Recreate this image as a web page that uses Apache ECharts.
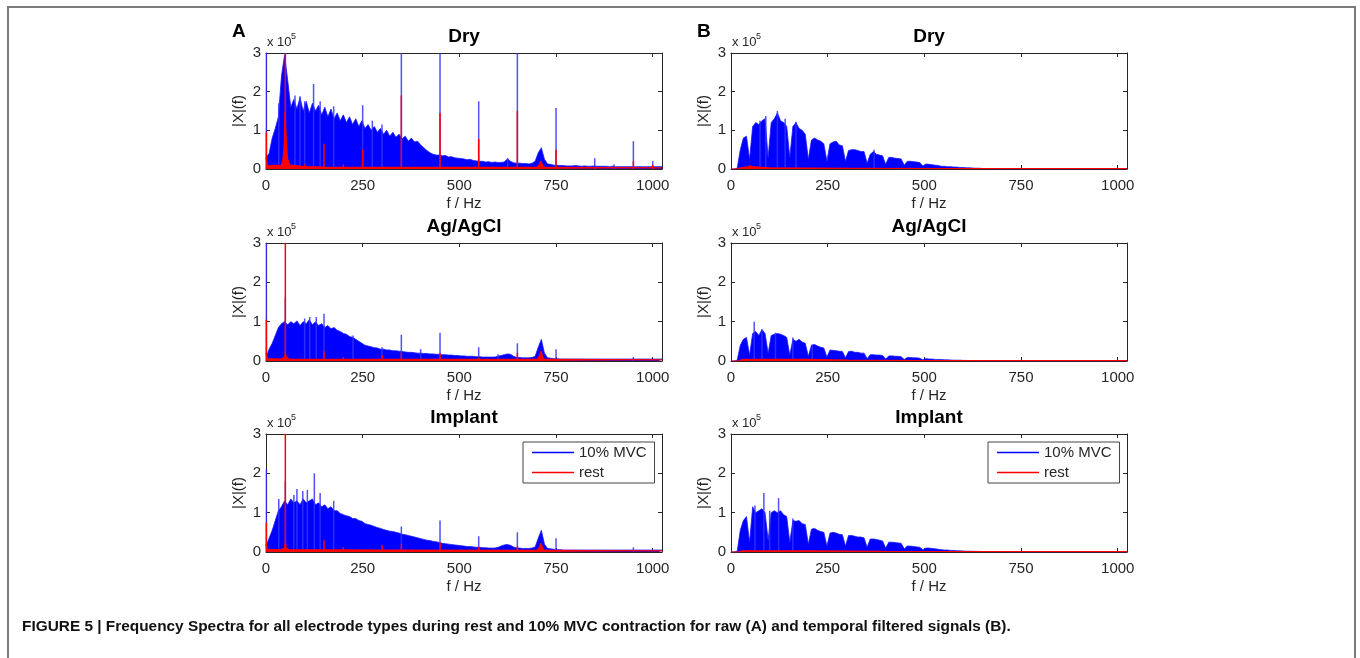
<!DOCTYPE html>
<html><head><meta charset="utf-8">
<script src="https://cdn.jsdelivr.net/npm/echarts@6/dist/echarts.min.js"></script>
<style>html,body{margin:0;padding:0;background:#fff}#chart{width:1360px;height:658px}</style>
</head><body><div id="chart"></div><script>
// ---------------- DATA (magnitudes in units of 1e5) ----------------
const BIN_HZ = 8;               // blue spectra sampled every 8 Hz, 0..1024 Hz
const xTicks = [0, 250, 500, 750, 1000];
const yTicks = [0, 1, 2, 3];
const panelTitles = ['Dry', 'Ag/AgCl', 'Implant'];
const columnLabels = ['A', 'B'];
const legendNames = ['10% MVC', 'rest'];
const captionText = 'FIGURE 5 | Frequency Spectra for all electrode types during rest and 10% MVC contraction for raw (A) and temporal filtered signals (B).';

// ---- A: raw ----
const rawDryBlue = [
  0.3,0.4,0.8,1.05,1.35,2.4,2.95,2.3,1.6,1.8,1.55,1.85,1.5,1.75,1.45,1.7,
  1.5,1.65,1.4,1.6,1.35,1.55,1.3,1.45,1.25,1.4,1.2,1.35,1.15,1.3,1.1,1.25,
  1.05,1.15,1.0,1.1,0.95,1.05,0.9,1.0,0.85,0.95,0.82,0.9,0.78,0.85,0.72,0.8,
  0.7,0.72,0.62,0.55,0.48,0.42,0.38,0.36,0.36,0.34,0.35,0.31,0.32,0.29,0.28,0.27,
  0.26,0.24,0.25,0.22,0.21,0.2,0.2,0.18,0.19,0.17,0.18,0.17,0.17,0.18,0.26,0.2,
  0.16,0.15,0.15,0.14,0.14,0.13,0.15,0.2,0.42,0.55,0.25,0.13,0.12,0.1,0.1,0.09,
  0.09,0.08,0.08,0.08,0.09,0.08,0.07,0.08,0.07,0.07,0.08,0.07,0.07,0.07,0.07,0.06,
  0.07,0.06,0.06,0.06,0.06,0.06,0.06,0.06,0.06,0.06,0.06,0.06,0.06,0.06,0.06,0.06,
  0.06];
const rawDryBlueSpikes = [[1,3],[33,1.7],[50,3],[75,1.9],[88,1.88],[100,1.75],[123,2.2],[140,1.75],[175,1.62],[250,1.65],[275,1.25],[300,1.15],[350,3],[450,3],[550,1.75],[625,0.28],[650,3],[750,1.58],[850,0.28],[900,0.12],[950,0.72],[1000,0.2]];
const rawDryRed = [[0,0.3],[4,0.08],[40,0.1],[44,0.25],[47,0.6],[49,1.5],[51,1.5],[53,0.6],[56,0.25],[62,0.1],[100,0.06],[150,0.05],[300,0.04],[700,0.04],[706,0.1],[711,0.2],[716,0.08],[722,0.04],[1024,0.03]];
const rawDryRedSpikes = [[1,0.95],[50,3],[100,0.12],[150,0.65],[200,0.12],[250,0.5],[350,1.9],[450,1.45],[550,0.78],[650,1.5],[750,0.5],[850,0.05],[950,0.2],[1000,0.1]];

const rawAgBlue = [
  0.1,0.3,0.45,0.65,0.85,0.95,1.0,0.92,1.0,0.95,1.02,0.9,1.0,0.95,1.05,0.92,
  1.0,0.9,0.95,0.85,0.9,0.82,0.85,0.78,0.75,0.7,0.68,0.62,0.6,0.55,0.5,0.45,
  0.4,0.38,0.36,0.34,0.33,0.3,0.3,0.28,0.28,0.26,0.26,0.25,0.24,0.23,0.22,0.22,
  0.21,0.2,0.2,0.19,0.19,0.18,0.18,0.17,0.17,0.16,0.16,0.15,0.15,0.14,0.14,0.13,
  0.13,0.12,0.12,0.12,0.11,0.11,0.1,0.1,0.1,0.1,0.1,0.12,0.14,0.16,0.18,0.17,
  0.12,0.09,0.09,0.08,0.08,0.08,0.09,0.12,0.35,0.55,0.2,0.08,0.07,0.06,0.06,0.05,
  0.05,0.05,0.05,0.05,0.05,0.05,0.05,0.05,0.05,0.05,0.05,0.05,0.05,0.05,0.05,0.05,
  0.05,0.05,0.05,0.05,0.05,0.05,0.05,0.05,0.05,0.05,0.05,0.05,0.05,0.05,0.05,0.05,
  0.05];
const rawAgBlueSpikes = [[1,3],[50,1.62],[100,1.08],[113,1.12],[130,1.12],[150,1.2],[225,0.65],[300,0.35],[350,0.67],[400,0.3],[450,0.72],[550,0.35],[600,0.17],[650,0.45],[750,0.3],[950,0.1]];
const rawAgRed = [[0,0.2],[4,0.06],[40,0.05],[48,0.1],[50,0.2],[52,0.1],[60,0.05],[700,0.04],[706,0.1],[711,0.25],[716,0.08],[722,0.04],[1024,0.03]];
const rawAgRedSpikes = [[1,1.05],[50,3],[150,0.25],[200,0.1],[300,0.15],[350,0.22],[450,0.2],[550,0.08],[650,0.2],[750,0.05]];

const rawImpBlue = [
  0.15,0.35,0.55,0.8,1.05,1.15,1.3,1.2,1.35,1.25,1.3,1.2,1.35,1.25,1.3,1.35,
  1.2,1.25,1.15,1.2,1.1,1.15,1.05,1.05,0.98,0.95,0.92,0.9,0.85,0.85,0.8,0.78,
  0.72,0.7,0.68,0.65,0.62,0.6,0.57,0.55,0.53,0.52,0.5,0.48,0.45,0.44,0.42,0.4,
  0.38,0.36,0.34,0.32,0.3,0.29,0.27,0.26,0.24,0.22,0.21,0.2,0.19,0.18,0.17,0.16,
  0.15,0.14,0.14,0.13,0.12,0.12,0.11,0.11,0.1,0.1,0.1,0.12,0.15,0.18,0.19,0.17,
  0.13,0.1,0.1,0.09,0.09,0.09,0.1,0.13,0.35,0.55,0.2,0.09,0.08,0.07,0.06,0.06,
  0.05,0.05,0.05,0.05,0.05,0.05,0.05,0.05,0.05,0.05,0.05,0.05,0.05,0.05,0.05,0.05,
  0.05,0.05,0.05,0.05,0.05,0.05,0.05,0.05,0.05,0.05,0.05,0.05,0.05,0.05,0.05,0.05,
  0.05];
const rawImpBlueSpikes = [[1,2.1],[33,1.35],[50,1.8],[72,1.45],[80,1.6],[95,1.55],[107,1.58],[125,2.0],[140,1.5],[175,1.3],[350,0.65],[450,0.8],[550,0.4],[650,0.5],[750,0.35],[950,0.12]];
const rawImpRed = [[0,0.2],[4,0.07],[40,0.06],[48,0.1],[50,0.25],[52,0.1],[60,0.06],[300,0.05],[700,0.04],[706,0.1],[711,0.22],[716,0.08],[722,0.04],[1024,0.03]];
const rawImpRedSpikes = [[1,0.75],[50,3],[150,0.3],[200,0.12],[300,0.18],[350,0.2],[450,0.25],[550,0.12],[650,0.15]];

// ---- B: temporal filtered ----
const filtDryBlue = [
  0,0,0.02,0.5,0.8,0.85,0.25,1.1,1.2,1.15,1.25,1.3,0.3,1.2,1.3,1.45,
  1.25,1.2,1.1,0.3,1.1,1.2,1.05,1.0,0.9,0.25,0.75,0.8,0.75,0.72,0.65,0.2,
  0.65,0.7,0.72,0.62,0.6,0.2,0.48,0.5,0.5,0.48,0.45,0.45,0.15,0.38,0.45,0.38,
  0.36,0.34,0.12,0.3,0.3,0.28,0.27,0.26,0.1,0.2,0.2,0.19,0.18,0.17,0.08,0.13,
  0.12,0.11,0.1,0.09,0.07,0.07,0.06,0.06,0.05,0.05,0.04,0.04,0.03,0.03,0.025,0.02,
  0.02,0.015,0.01,0.01,0.01,0.008,0.008,0.006,0.006,0.005,0.005,0.005,0.005,0.005,0.005,0.005,
  0.004,0.004,0.004,0.004,0.004,0.004,0.004,0.004,0.004,0.004,0.004,0.004,0.004,0.004,0.004,0.004,
  0.004,0.004,0.004,0.004,0.004,0.004,0.004,0.004,0.004,0.004,0.004,0.004,0.004,0.004,0.004,0.004,
  0.004];
const filtDryBlueSpikes = [[75,1.25],[90,1.37],[120,1.5],[140,1.3],[168,1.22],[370,0.5]];
const filtDryRed = [[0,0],[16,0],[24,0.03],[50,0.06],[100,0.03],[300,0.02],[600,0.01],[1024,0.008]];
const filtDryRedSpikes = [[50,0.1]];

const filtAgBlue = [
  0,0,0.02,0.4,0.55,0.6,0.15,0.7,0.75,0.65,0.8,0.7,0.2,0.65,0.68,0.7,
  0.68,0.65,0.6,0.15,0.55,0.5,0.55,0.48,0.45,0.12,0.4,0.42,0.38,0.35,0.33,0.1,
  0.28,0.27,0.26,0.25,0.24,0.08,0.24,0.25,0.22,0.22,0.2,0.2,0.06,0.16,0.16,0.15,
  0.15,0.14,0.05,0.13,0.13,0.12,0.12,0.11,0.04,0.09,0.09,0.08,0.08,0.07,0.03,0.06,
  0.05,0.05,0.04,0.04,0.035,0.03,0.03,0.025,0.02,0.02,0.02,0.015,0.015,0.01,0.01,0.01,
  0.01,0.008,0.008,0.006,0.006,0.005,0.005,0.004,0.004,0.004,0.004,0.004,0.004,0.004,0.004,0.004,
  0.003,0.003,0.003,0.003,0.003,0.003,0.003,0.003,0.003,0.003,0.003,0.003,0.003,0.003,0.003,0.003,
  0.003,0.003,0.003,0.003,0.003,0.003,0.003,0.003,0.003,0.003,0.003,0.003,0.003,0.003,0.003,0.003,
  0.003];
const filtAgBlueSpikes = [[60,1.0],[80,0.8],[115,0.72],[160,0.6],[210,0.42]];
const filtAgRed = [[0,0],[20,0],[28,0.04],[200,0.04],[300,0.02],[500,0.01],[1024,0.008]];
const filtAgRedSpikes = [];

const filtImpBlue = [
  0,0,0.02,0.55,0.8,0.9,0.25,1.15,1.0,1.05,1.1,1.0,0.3,1.0,1.05,1.0,
  1.05,0.95,0.9,0.25,0.8,0.78,0.8,0.72,0.7,0.2,0.58,0.6,0.55,0.52,0.5,0.15,
  0.48,0.5,0.48,0.45,0.44,0.15,0.42,0.42,0.4,0.38,0.38,0.36,0.12,0.33,0.33,0.32,
  0.3,0.28,0.1,0.25,0.25,0.24,0.23,0.22,0.08,0.15,0.15,0.14,0.13,0.12,0.06,0.1,
  0.1,0.09,0.08,0.07,0.06,0.05,0.05,0.04,0.04,0.03,0.03,0.025,0.02,0.02,0.02,0.015,
  0.015,0.012,0.01,0.01,0.008,0.008,0.006,0.006,0.005,0.005,0.005,0.005,0.004,0.004,0.004,0.004,
  0.003,0.003,0.003,0.003,0.003,0.003,0.003,0.003,0.003,0.003,0.003,0.003,0.003,0.003,0.003,0.003,
  0.003,0.003,0.003,0.003,0.003,0.003,0.003,0.003,0.003,0.003,0.003,0.003,0.003,0.003,0.003,0.003,
  0.003];
const filtImpBlueSpikes = [[62,1.18],[85,1.5],[100,1.05],[123,1.37],[160,0.85]];
const filtImpRed = [[0,0],[20,0],[28,0.03],[200,0.03],[400,0.015],[1024,0.008]];
const filtImpRedSpikes = [];

// ---------------- LAYOUT ----------------
const gridLeft = [266, 731];
const gridTop = [53, 243, 434];
const gridH = [116, 118, 118];
const gridW = 396;
const INK = '#262626';
const FONT = '"Liberation Sans", Arial, Helvetica, sans-serif';

const panels = [
  {col:0,row:0,blue:rawDryBlue,blueSpikes:rawDryBlueSpikes,red:rawDryRed,redSpikes:rawDryRedSpikes},
  {col:0,row:1,blue:rawAgBlue,blueSpikes:rawAgBlueSpikes,red:rawAgRed,redSpikes:rawAgRedSpikes},
  {col:0,row:2,blue:rawImpBlue,blueSpikes:rawImpBlueSpikes,red:rawImpRed,redSpikes:rawImpRedSpikes},
  {col:1,row:0,blue:filtDryBlue,blueSpikes:filtDryBlueSpikes,red:filtDryRed,redSpikes:filtDryRedSpikes},
  {col:1,row:1,blue:filtAgBlue,blueSpikes:filtAgBlueSpikes,red:filtAgRed,redSpikes:filtAgRedSpikes},
  {col:1,row:2,blue:filtImpBlue,blueSpikes:filtImpBlueSpikes,red:filtImpRed,redSpikes:filtImpRedSpikes}
];

const grid = [], xAxis = [], yAxis = [], series = [], title = [], graphic = [], legend = [];
const showTickLabel = (list) => (v) => list.indexOf(v) >= 0 ? String(v) : '';

panels.forEach((p, i) => {
  const L = gridLeft[p.col], T = gridTop[p.row], H = gridH[p.row];
  grid.push({left: L, top: T, width: gridW, height: H, containLabel: false});
  xAxis.push({gridIndex: i, type: 'value', min: 0, max: 1024, interval: 250, position: 'bottom',
    axisLine: {show: true, onZero: false, lineStyle: {color: INK, width: 1}},
    axisTick: {show: true, inside: true, length: 4, lineStyle: {color: INK}},
    axisLabel: {show: true, margin: 9, fontSize: 15, color: INK, fontFamily: FONT, showMaxLabel: false, formatter: showTickLabel(xTicks)},
    splitLine: {show: false},
    name: 'f / Hz', nameLocation: 'middle', nameGap: 27,
    nameTextStyle: {fontSize: 15, color: INK, fontFamily: FONT}});
  xAxis.push({gridIndex: i, type: 'value', min: 0, max: 1024, interval: 250, position: 'top',
    axisLine: {show: true, onZero: false, lineStyle: {color: INK, width: 1}},
    axisTick: {show: true, inside: true, length: 4, lineStyle: {color: INK}},
    axisLabel: {show: false}, splitLine: {show: false}});
  yAxis.push({gridIndex: i, type: 'value', min: 0, max: 3, interval: 1, position: 'left',
    axisLine: {show: true, onZero: false, lineStyle: {color: INK, width: 1}},
    axisTick: {show: true, inside: true, length: 4, lineStyle: {color: INK}},
    axisLabel: {show: true, margin: 5, fontSize: 15, color: INK, fontFamily: FONT, formatter: showTickLabel(yTicks)},
    splitLine: {show: false},
    name: '|X|(f)', nameLocation: 'middle', nameGap: 20, nameRotate: 90,
    nameTextStyle: {fontSize: 15, color: INK, fontFamily: FONT}});
  yAxis.push({gridIndex: i, type: 'value', min: 0, max: 3, interval: 1, position: 'right',
    axisLine: {show: true, onZero: false, lineStyle: {color: INK, width: 1}},
    axisTick: {show: true, inside: true, length: 4, lineStyle: {color: INK}},
    axisLabel: {show: false}, splitLine: {show: false}});

  const xi = 2 * i, yi = 2 * i;
  series.push({type: 'line', name: legendNames[0], xAxisIndex: xi, yAxisIndex: yi, z: 2,
    data: p.blue.map((v, k) => [k * BIN_HZ, v]), symbol: 'none', showSymbol: false,
    lineStyle: {color: '#1a1aff', width: 0.8}, itemStyle: {color: '#0000ff'},
    areaStyle: {color: '#0000ff', opacity: 1}, silent: true});
  series.push({type: 'bar', name: legendNames[0], xAxisIndex: xi, yAxisIndex: yi, z: 3,
    data: p.blueSpikes, barWidth: 1.5, barGap: '-100%',
    itemStyle: {color: 'rgba(50,50,255,0.85)'}, silent: true});
  series.push({type: 'line', name: legendNames[1], xAxisIndex: xi, yAxisIndex: yi, z: 4,
    data: p.red, symbol: 'none', showSymbol: false,
    lineStyle: {color: '#ff0000', width: 1.2}, itemStyle: {color: '#ff0000'},
    areaStyle: {color: '#ff0000', opacity: 1}, silent: true});
  series.push({type: 'bar', name: legendNames[1], xAxisIndex: xi, yAxisIndex: yi, z: 5,
    data: p.redSpikes, barWidth: 1.5, barGap: '-100%',
    itemStyle: {color: '#ff0000'}, silent: true});

  title.push({text: panelTitles[p.row], left: L + gridW / 2, top: T - 26, textAlign: 'center', padding: 0,
    textStyle: {fontSize: 19, fontWeight: 'bold', color: '#000', fontFamily: FONT}});
  graphic.push({type: 'text', left: L + 1, top: T - 17,
    style: {text: 'x 10', fontSize: 13, fill: INK, fontFamily: FONT}});
  graphic.push({type: 'text', left: L + 25, top: T - 21,
    style: {text: '5', fontSize: 9, fill: INK, fontFamily: FONT}});

  if (p.row === 2) {
    legend.push({left: L + gridW - 139, top: T + 8, orient: 'vertical', data: legendNames,
      icon: 'rect', itemWidth: 42, itemHeight: 1.5, itemGap: 5,
      backgroundColor: '#fff', borderColor: '#444', borderWidth: 1, borderRadius: 0,
      padding: [3, 8, 3, 9],
      textStyle: {fontSize: 15, color: INK, fontFamily: FONT}, selectedMode: false});
  }
});

columnLabels.forEach((c, k) => {
  graphic.push({type: 'text', left: gridLeft[k] - 34, top: 22,
    style: {text: c, fontSize: 19, fontWeight: 'bold', fill: '#000', fontFamily: FONT}});
});
graphic.push({type: 'text', left: 22, top: 619,
  style: {text: captionText, fontSize: 15.4, fontWeight: 'bold', fill: '#111', fontFamily: FONT}});
graphic.push({type: 'polyline', silent: true,
  shape: {points: [[8, 658], [8, 7], [1355, 7], [1355, 658]]},
  style: {stroke: '#7a7a7a', lineWidth: 2, fill: null}});

const chart = echarts.init(document.getElementById('chart'), null, {renderer: 'canvas'});
chart.setOption({
  animation: false,
  backgroundColor: '#fff',
  textStyle: {fontFamily: FONT},
  grid, xAxis, yAxis, series, title, legend, graphic
});
</script></body></html>
